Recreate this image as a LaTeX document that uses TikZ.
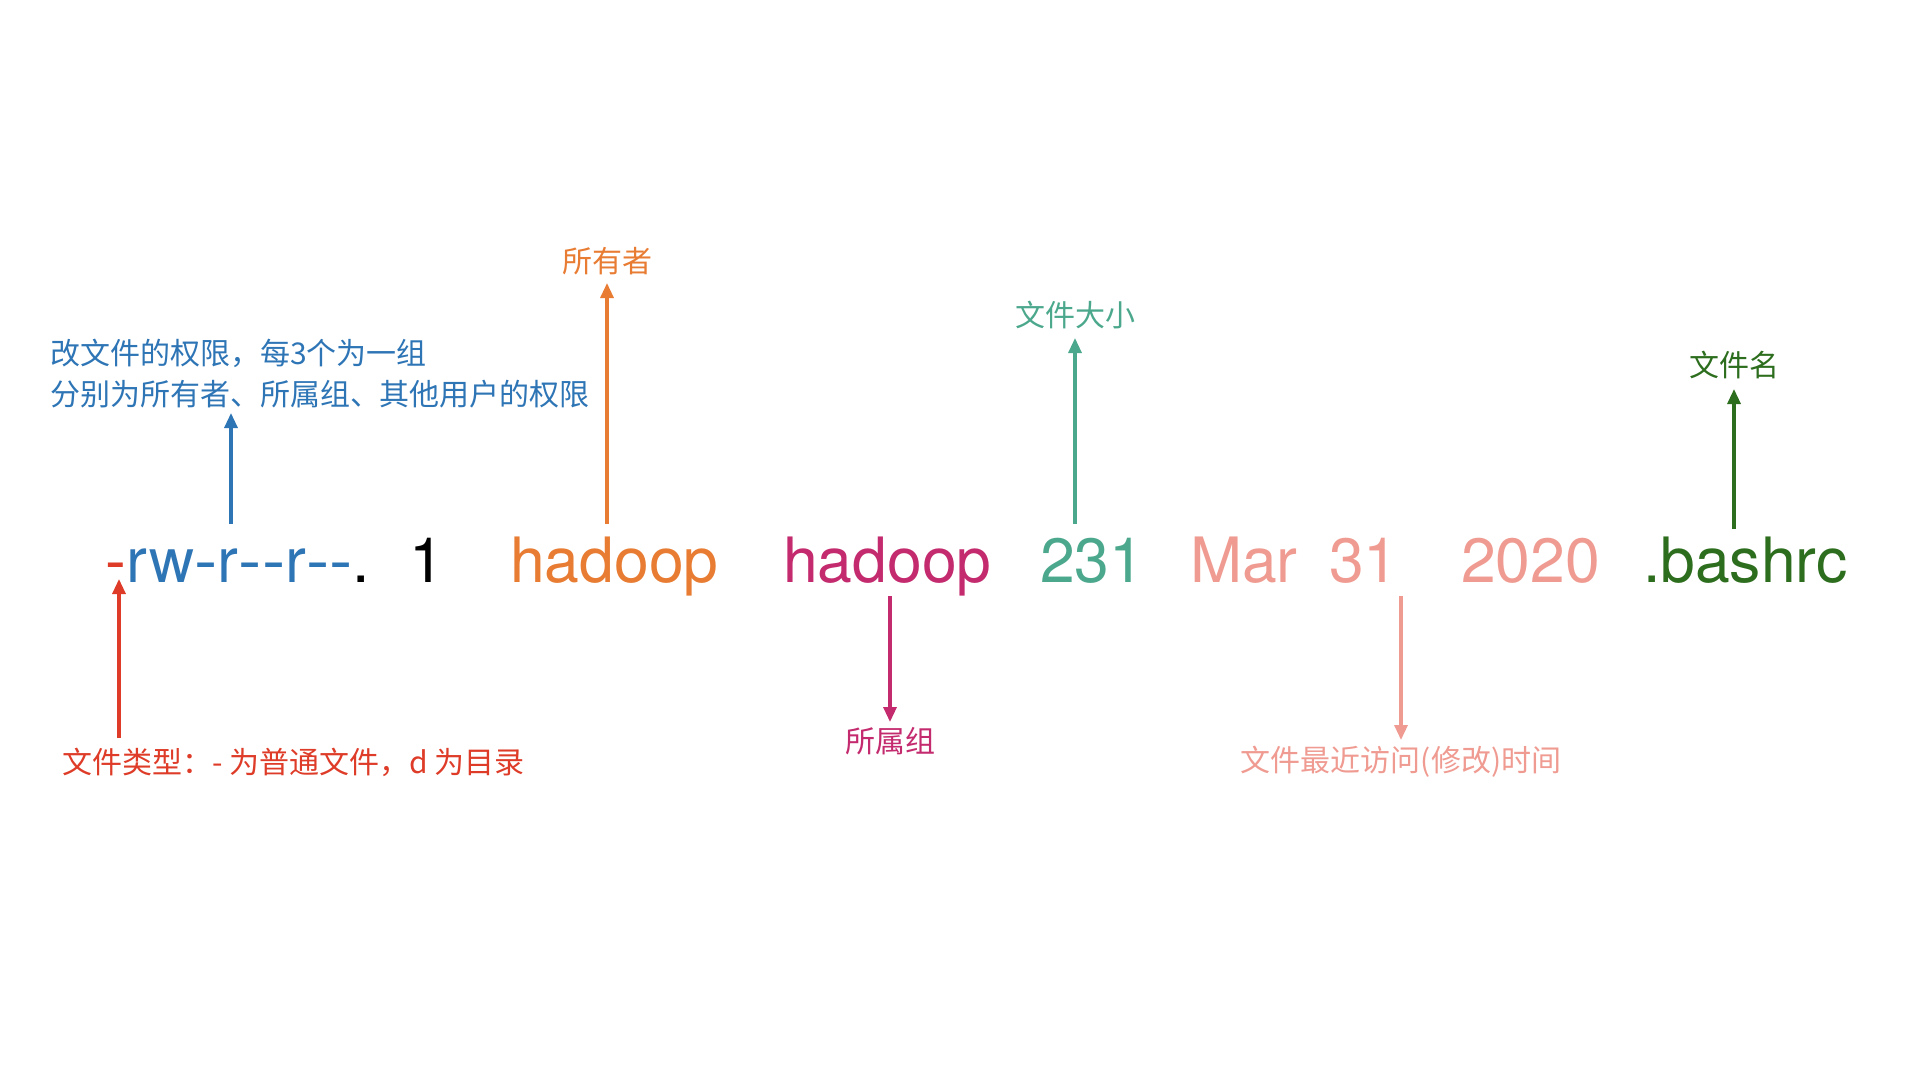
\documentclass[tikz,border=0pt]{standalone}
\usepackage{fontspec}
\setmainfont{TeX Gyre Heros}
\newfontfamily\cjk{Noto Sans CJK SC}
\usetikzlibrary{arrows.meta}
\definecolor{cred}{RGB}{222,60,40}
\definecolor{cblue}{RGB}{46,117,182}
\definecolor{corange}{RGB}{232,124,50}
\definecolor{cmag}{RGB}{196,42,110}
\definecolor{cteal}{RGB}{76,168,140}
\definecolor{csalmon}{RGB}{240,155,145}
\definecolor{cgreen}{RGB}{45,110,30}
\newcommand{\hyw}{\scalebox{1.12}[1]{-}}
\begin{document}
\begin{tikzpicture}[x=1pt,y=-1pt,
  big/.style={anchor=base west,inner sep=0pt,outer sep=0pt,font=\fontsize{62.5}{62.5}\selectfont},
  lab/.style={anchor=base,inner sep=0pt,outer sep=0pt,font=\cjk\fontsize{30}{30}\selectfont},
  arr/.style={line width=3.2pt,-{Triangle[width=13pt,length=15pt]}}]
\useasboundingbox (0,0) rectangle (1920,1080);
\fill[white] (0,0) rectangle (1920,1080);

% main line
\node[big,text=cred] (dash) at (105,582) {-};
\node[big,text=cblue] (perm) at ([xshift=1pt]dash.base east) {rw\hyw r\hyw\hyw r\hyw\hyw};
\node[big,text=black] (dot) at (perm.base east) {.};
\node[big,text=black] (links) at (409,582) {1};
\node[big,text=corange] (owner) at (510,582) {hadoop};
\node[big,text=cmag] (group) at (783,582) {hadoop};
\node[big,text=cteal] (size) at (1040,582) {231};
\node[big,text=csalmon] (month) at (1190,582) {Mar};
\node[big,text=csalmon] (day) at (1329,582) {31};
\node[big,text=csalmon] (year) at (1461,582) {2020};
\node[big,text=cgreen] (name) at (1643,582) {.bashrc};

% labels
\node[lab,anchor=base west,text=cred] (ltype) at (62,773) {文件类型：- 为普通文件，d 为目录};
\node[lab,anchor=base west,text=cblue] (lperm1) at (50,364) {改文件的权限，每3个为一组};
\node[lab,anchor=base west,text=cblue] (lperm2) at (50,405) {分别为所有者、所属组、其他用户的权限};
\node[lab,text=corange] (lowner) at (607,272) {所有者};
\node[lab,text=cmag] (lgroup) at (890,752) {所属组};
\node[lab,text=cteal] (lsize) at (1075,326) {文件大小};
\node[lab,text=csalmon] (ltime) at (1401,771) {文件最近访问(修改)时间};
\node[lab,text=cgreen] (lname) at (1734,376) {文件名};

% arrow end points
\coordinate (t1) at (119,738); \coordinate (h1) at (119,579);
\coordinate (t2) at (231,524); \coordinate (h2) at (231,413);
\coordinate (t3) at (607,524); \coordinate (h3) at (607,283);
\coordinate (t4) at (890,596); \coordinate (h4) at (890,722);
\coordinate (t5) at (1075,524); \coordinate (h5) at (1075,338);
\coordinate (t6) at (1401,596); \coordinate (h6) at (1401,740);
\coordinate (t7) at (1734,529); \coordinate (h7) at (1734,389);

\draw[arr,cred] (t1) -- (h1);
\draw[arr,cblue] (t2) -- (h2);
\draw[arr,corange] (t3) -- (h3);
\draw[arr,cmag] (t4) -- (h4);
\draw[arr,cteal] (t5) -- (h5);
\draw[arr,csalmon] (t6) -- (h6);
\draw[arr,cgreen] (t7) -- (h7);
\end{tikzpicture}
\end{document}
